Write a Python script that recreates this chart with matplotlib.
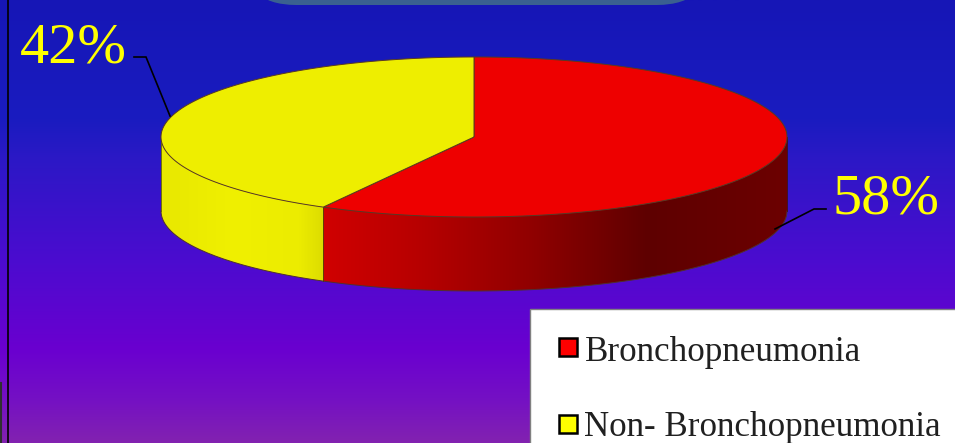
import numpy as np
import matplotlib
matplotlib.use("Agg")
import matplotlib.pyplot as plt
from matplotlib.colors import LinearSegmentedColormap
from matplotlib.patches import PathPatch, Rectangle, FancyBboxPatch
from matplotlib.path import Path

categories = ["Bronchopneumonia", "Non- Bronchopneumonia"]
shares = [58, 42]
top_colors = ["#ee0000", "#eeee00"]
swatch_colors = ["#ff0000", "#ffff00"]

WIDTH, HEIGHT = 955, 443
CX, CY, RX, RY, DEPTH = 474, 137, 313, 80, 74


def rim(start, stop, n=200):
    # points on the top rim, angles running clockwise from twelve o'clock
    t = np.radians(np.linspace(start, stop, n))
    return np.column_stack([CX + RX * np.sin(t), CY - RY * np.cos(t)])


def shaded_fill(ax, verts, cmap, x0, x1):
    # horizontal shading clipped to the outline of one wall
    patch = PathPatch(Path(verts, closed=False), fc="none", ec="none")
    ax.add_patch(patch)
    im = ax.imshow(np.linspace(0, 1, 256)[None, :], cmap=cmap, aspect="auto",
                   extent=[x0, x1, CY + RY + DEPTH + 2, CY - 2], zorder=2)
    im.set_clip_path(patch)


def wall_outline(start, stop):
    top = rim(start, stop)
    return np.vstack([top, top[::-1] + [0, DEPTH], top[:1]])


fig = plt.figure(figsize=(WIDTH / 100, HEIGHT / 100), dpi=100)
ax = fig.add_axes([0, 0, 1, 1])

# page background
bg_cmap = LinearSegmentedColormap.from_list("page", [
    (0.0, "#1616b6"), (0.27, "#1a1cc0"), (0.36, "#2c18c6"), (0.58, "#4a0ccf"),
    (0.79, "#6a00d0"), (0.90, "#7410c4"), (1.0, "#8222b0")])
ax.imshow(np.linspace(0, 1, 256)[:, None], cmap=bg_cmap, aspect="auto",
          extent=[0, WIDTH, HEIGHT, 0], zorder=0)

# title panel cut by the top edge and page rules on the left
ax.add_patch(FancyBboxPatch((241, -120), 471, 125, boxstyle="round,pad=0,rounding_size=55",
                            fc="#3a6090", ec="none", zorder=1))
ax.plot([8, 8], [0, HEIGHT], color="black", lw=1.2, zorder=1)
ax.plot([0.5, 0.5], [383, HEIGHT], color="#303030", lw=1.5, zorder=1)

# slice boundaries from the shares
boundaries = np.cumsum([0] + shares) * 360 / sum(shares)

red_wall = LinearSegmentedColormap.from_list("red_wall", [
    (0.0, "#d00000"), (0.20, "#b80000"), (0.45, "#900000"),
    (0.70, "#5e0000"), (1.0, "#6c0000")])
yellow_wall = LinearSegmentedColormap.from_list("yellow_wall", [
    (0.0, "#e8e800"), (0.45, "#f0f000"), (0.85, "#ecec00"), (1.0, "#dcdc00")])

# front wall: only the part of each slice on the lower half of the rim is visible
red_stop = boundaries[1]
split_pt = rim(red_stop, red_stop, 1)[0]
shaded_fill(ax, wall_outline(90, red_stop), red_wall, split_pt[0], CX + RX)
shaded_fill(ax, wall_outline(red_stop, 270), yellow_wall, CX - RX, split_pt[0])

ax.plot(*(rim(90, 270) + [0, DEPTH]).T, color="#503030", lw=0.7, zorder=3)
ax.plot([CX + RX, CX + RX], [CY, CY + DEPTH], color="#401010", lw=0.6, zorder=3)
ax.plot([CX - RX, CX - RX], [CY, CY + DEPTH], color="#606000", lw=0.6, zorder=3)
ax.plot([split_pt[0]] * 2, [split_pt[1], split_pt[1] + DEPTH], color="#504000", lw=0.6, zorder=3)

# top faces of the slices
for start, stop, color in zip(boundaries[:-1], boundaries[1:], top_colors):
    verts = np.vstack([[CX, CY], rim(start, stop), [CX, CY]])
    ax.add_patch(PathPatch(Path(verts), fc=color, ec="#5a3a20", lw=0.7, zorder=4))

# percentage labels with their leader lines
ax.plot([134, 146, 170], [57, 57, 116], color="black", lw=1.2, zorder=5, solid_joinstyle="miter")
ax.plot([826, 814, 775], [209, 209, 229], color="black", lw=1.2, zorder=5, solid_joinstyle="miter")
label_pos = [(832, 213, "left"), (127, 62, "right")]
for share, (x, y, ha) in zip(shares, label_pos):
    ax.text(x, y, f"{share}%", color="#ffff00", family="Liberation Serif", fontsize=42,
            ha=ha, va="baseline", zorder=6)

# legend box
ax.add_patch(Rectangle((529.5, 308.5), 440, 160, fc="white", ec="#808080", lw=1, zorder=5))
legend_rows = [(338, 361, 585), (415, 435.5, 584)]
for name, color, (sy, base, tx) in zip(categories, swatch_colors, legend_rows):
    ax.add_patch(Rectangle((559, sy), 17.5, 17.5, fc=color, ec="black", lw=1.8, zorder=6))
    ax.text(tx, base, name, color="#202020", family="Liberation Serif", fontsize=25.2,
            ha="left", va="baseline", zorder=6)

ax.set_xlim(0, WIDTH)
ax.set_ylim(HEIGHT, 0)
ax.axis("off")
fig.savefig("out.png", dpi=100)
